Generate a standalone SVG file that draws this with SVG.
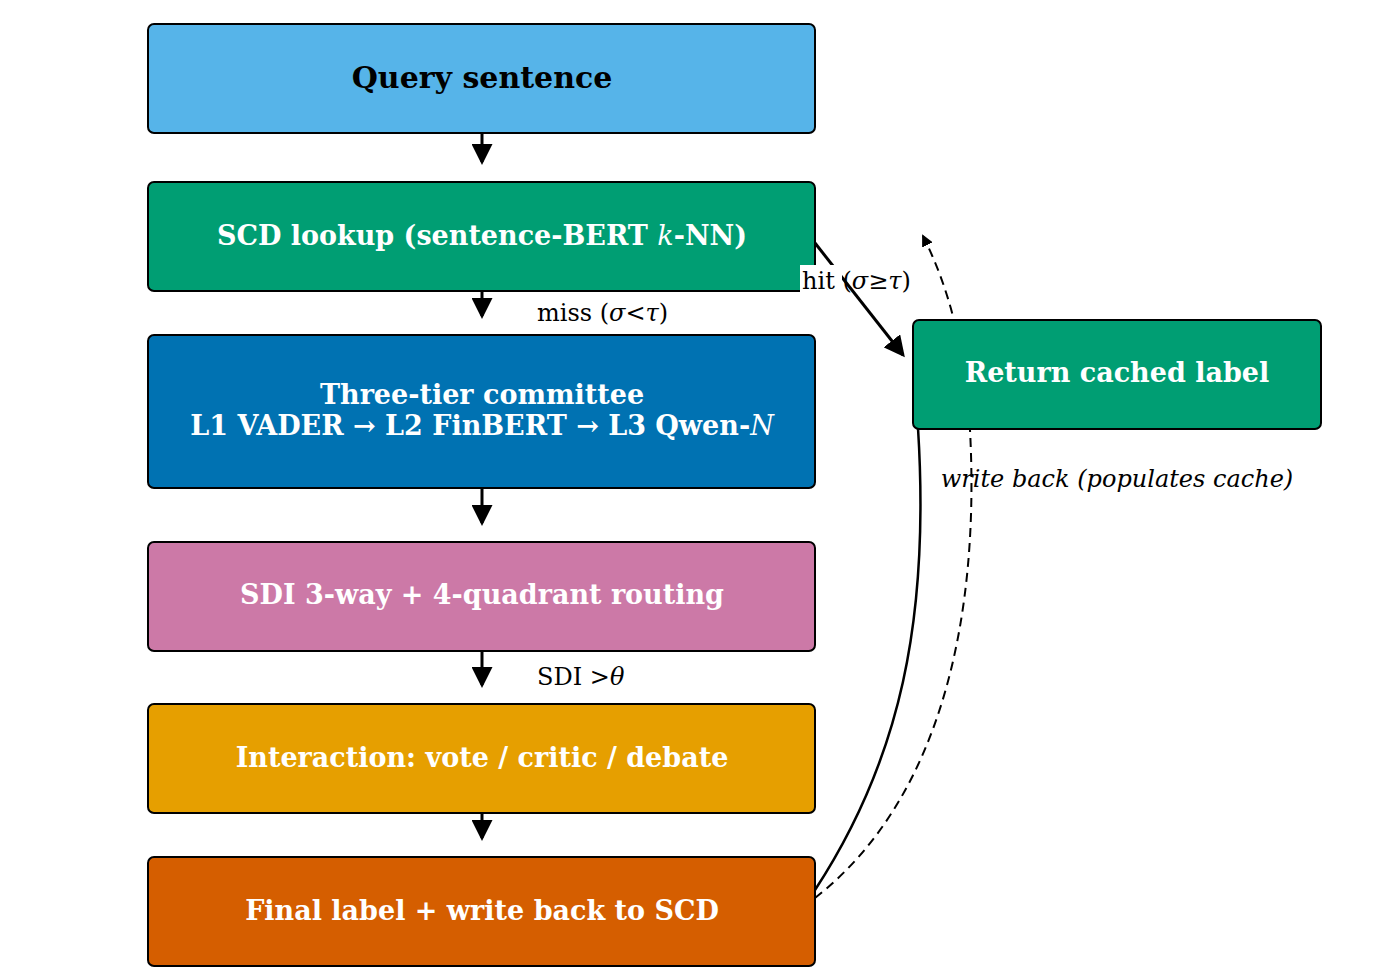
<svg xmlns="http://www.w3.org/2000/svg" width="1400" height="976" viewBox="0 0 1400 976">
<style>
.b{stroke:#000;stroke-width:2}
.t{font-family:"DejaVu Serif",serif;font-weight:bold;font-size:27px;fill:#fff;text-anchor:middle}
.l{font-family:"DejaVu Serif",serif;font-size:24px;fill:#000}
.c{fill:none;stroke:#000;stroke-width:3}
</style>
<defs><marker id="a" markerWidth="7" markerHeight="7" refX="6" refY="3.5" orient="auto" markerUnits="strokeWidth"><path d="M0,0L7,3.5L0,7z"/></marker>
<marker id="s" markerWidth="12" markerHeight="12" refX="10" refY="6" orient="auto" markerUnits="userSpaceOnUse"><path d="M0,0L12,6L0,12z"/></marker></defs>
<rect width="1400" height="976" fill="#fff"/>
<g id="connectors">
<line class="c" x1="482" y1="133" x2="482" y2="162" marker-end="url(#a)"/>
<line class="c" x1="482" y1="291" x2="482" y2="316" marker-end="url(#a)"/>
<line class="c" x1="482" y1="488" x2="482" y2="523" marker-end="url(#a)"/>
<line class="c" x1="482" y1="651" x2="482" y2="685" marker-end="url(#a)"/>
<line class="c" x1="482" y1="813" x2="482" y2="838" marker-end="url(#a)"/>
<line class="c" x1="815" y1="243" x2="903" y2="355" marker-end="url(#a)"/>
<path d="M815,890 C900,760 930,620 918,428" fill="none" stroke="#000" stroke-width="2.5"/>
<path d="M815,898 C940,800 980,620 970,430 C965,350 950,290 923,236" fill="none" stroke="#000" stroke-width="2" stroke-dasharray="9,6" marker-end="url(#s)"/>
</g>
<g id="n1"><rect class="b" x="148" y="24" width="667" height="109" rx="6" fill="#56b4e9"/><text class="t" x="482" y="88" style="fill:#000;font-size:30px">Query sentence</text></g>
<g id="n2"><rect class="b" x="148" y="182" width="667" height="109" rx="6" fill="#009e73"/><text class="t" x="482" y="245">SCD lookup  (sentence-BERT <tspan font-style="italic" font-weight="normal">k</tspan>-NN)</text></g>
<g id="n3"><rect class="b" x="148" y="335" width="667" height="153" rx="6" fill="#0072b2"/><text class="t" x="482" y="404">Three-tier committee</text><text class="t" x="482" y="435">L1 VADER  →  L2 FinBERT  →  L3 Qwen-<tspan font-style="italic" font-weight="normal">N</tspan></text></g>
<g id="n4"><rect class="b" x="148" y="542" width="667" height="109" rx="6" fill="#cc79a7"/><text class="t" x="482" y="604">SDI 3-way  +  4-quadrant routing</text></g>
<g id="n5"><rect class="b" x="148" y="704" width="667" height="109" rx="6" fill="#e69f00"/><text class="t" x="482" y="767">Interaction:  vote  /  critic  /  debate</text></g>
<g id="n6"><rect class="b" x="148" y="857" width="667" height="109" rx="6" fill="#d55e00"/><text class="t" x="482" y="920">Final label  +  write back to SCD</text></g>
<g id="n7"><rect class="b" x="913" y="320" width="408" height="109" rx="6" fill="#009e73"/><text class="t" x="1117" y="382">Return cached label</text></g>
<g id="labels">
<text class="l" x="537" y="321">miss  (<tspan font-style="italic">σ</tspan>&lt;<tspan font-style="italic">τ</tspan>)</text>
<rect x="800" y="265" width="42" height="30" fill="#fff"/>
<text class="l" x="802" y="289">hit  (<tspan font-style="italic">σ</tspan>≥<tspan font-style="italic">τ</tspan>)</text>
<text class="l" x="537" y="685">SDI  &gt;<tspan font-style="italic">θ</tspan></text>
<text class="l" x="1117" y="487" text-anchor="middle" font-style="italic" font-size="22">write back (populates cache)</text>
</g>
</svg>
